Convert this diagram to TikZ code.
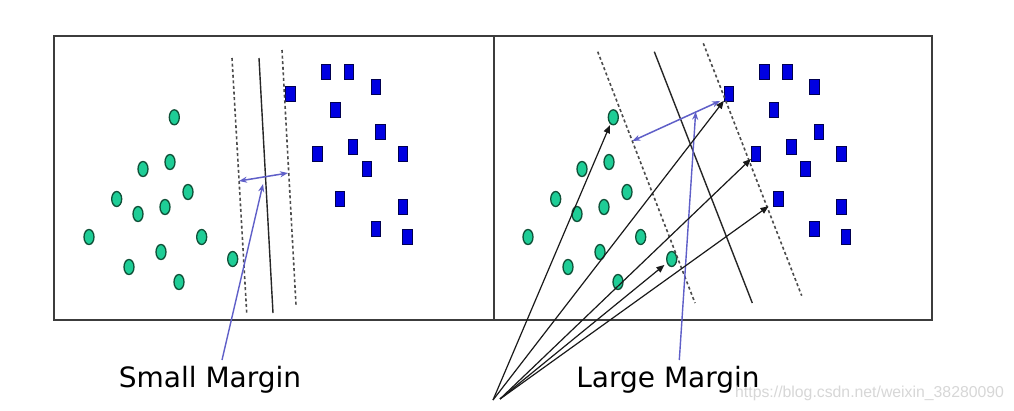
\documentclass[tikz,border=0pt]{standalone}
\usepackage{fontspec}
\setmainfont{DejaVu Sans}
\newfontfamily\wmfont{Liberation Sans}
\usetikzlibrary{shapes.geometric,arrows.meta}
\definecolor{dotfill}{RGB}{30,205,150}
\definecolor{dotline}{RGB}{15,80,55}
\definecolor{sqfill}{RGB}{0,0,225}
\definecolor{sqline}{RGB}{0,0,80}
\definecolor{pointer}{RGB}{95,95,200}
\definecolor{framecol}{RGB}{60,60,60}
\definecolor{wmcol}{RGB}{215,215,215}
\tikzset{
  dotnode/.style={ellipse,draw=dotline,fill=dotfill,line width=1.3pt,minimum width=10pt,minimum height=15pt,inner sep=0pt},
  sqnode/.style={rectangle,draw=sqline,fill=sqfill,line width=0.9pt,minimum width=9.5pt,minimum height=15.5pt,inner sep=0pt},
  panel/.style={draw=framecol,line width=1.7pt},
  marginline/.style={draw=black!70,line width=1.6pt,dash pattern=on 3pt off 2.6pt},
  hyperline/.style={draw=black!85,line width=1.4pt},
  bluearrow/.style={draw=pointer,line width=1.5pt,{Stealth[length=8pt,width=6pt]}-{Stealth[length=8pt,width=6pt]}},
  bluepointer/.style={draw=pointer,line width=1.4pt,-{Stealth[length=8pt,width=6pt]}},
  blackarrow/.style={draw=black!90,line width=1.2pt,-{Triangle[length=8pt,width=6.5pt]}},
  lbl/.style={font=\fontsize{28}{30}\selectfont,text=black,inner sep=0pt,anchor=base},
  wm/.style={font=\wmfont\fontsize{15.8}{17}\selectfont,text=wmcol,inner sep=0pt,anchor=base west}
}
\begin{document}
\begin{tikzpicture}[x=1pt,y=-1pt]
\useasboundingbox (0,0) rectangle (1014,410);
\fill[white] (0,0) rectangle (1014,410);
% panels
\node[panel,minimum width=440pt,minimum height=284pt,inner sep=0pt,anchor=north west] (leftpanel) at (53,35) {};
\node[panel,minimum width=438pt,minimum height=284pt,inner sep=0pt,anchor=north west] (rightpanel) at (493,35) {};
% data points
\foreach \side/\dx in {L/0,R/439}{
  \foreach \n/\x/\y in {1/174.3/117.3,2/170/162,3/143/169,4/116.7/199,5/138/214,6/165/207,7/188/192,8/89/237,9/201.7/237,10/161/252,11/129/267,12/179/282,13/232.7/259}{
    \node[dotnode] (\side c\n) at (\x+\dx,\y) {};
  }
  \foreach \n/\x/\y in {1/326/72,2/349/72,3/376/87,4/290.5/94,5/335.5/110,6/380.5/132,7/353/147,8/317.5/154,9/403/154,10/367/169,11/340/199,12/403/207,13/376/229,14/407.5/237}{
    \node[sqnode] (\side s\n) at (\x+\dx-0.4*\dx/439,\y) {};
  }
}
% left separating lines
\coordinate (La1) at (232,58);   \coordinate (La2) at (246.7,312.7);
\coordinate (Lh1) at (259,58);   \coordinate (Lh2) at (273,313);
\coordinate (Lb1) at (282,50);   \coordinate (Lb2) at (296,305);
\draw[marginline] (La1) -- (La2);
\draw[hyperline] (Lh1) -- (Lh2);
\draw[marginline] (Lb1) -- (Lb2);
% right separating lines
\coordinate (Ra1) at (597.7,51.7); \coordinate (Ra2) at (695,303);
\coordinate (Rh1) at (654.3,51.7); \coordinate (Rh2) at (752.3,303);
\coordinate (Rb1) at (703.3,43.3); \coordinate (Rb2) at (801.7,295.7);
\draw[marginline] (Ra1) -- (Ra2);
\draw[hyperline] (Rh1) -- (Rh2);
\draw[marginline] (Rb1) -- (Rb2);
% labels
\node[lbl] (small) at (210,387) {Small Margin};
\node[lbl] (large) at (668,387) {Large Margin};
\node[wm] (wmark) at (735,397) {https://blog.csdn.net/weixin\_38280090};
% margin arrows
\coordinate (Lm1) at (239,181); \coordinate (Lm2) at (288,173);
\draw[bluearrow] (Lm1) -- (Lm2);
\coordinate (Lp0) at (222,360); \coordinate (Lp1) at (263,184);
\draw[bluepointer] (Lp0) -- (Lp1);
\coordinate (Rm1) at (632.3,141); \coordinate (Rm2) at (720,101);
\draw[bluearrow] (Rm1) -- (Rm2);
\coordinate (Rp0) at (679.3,360); \coordinate (Rp1) at (695.7,111.7);
\draw[bluepointer] (Rp0) -- (Rp1);
% support vector arrows
\coordinate (srcA) at (493,400);
\coordinate (srcB) at (500,399);
\draw[blackarrow,shorten >=1pt] (srcA) -- (Rc1);
\draw[blackarrow] (srcA) -- (Rs4);
\draw[blackarrow] (srcB) -- (Rs8);
\draw[blackarrow,shorten >=6pt] (srcB) -- (Rs11);
\draw[blackarrow,shorten >=3pt] (srcB) -- (Rc13);
\end{tikzpicture}
\end{document}
